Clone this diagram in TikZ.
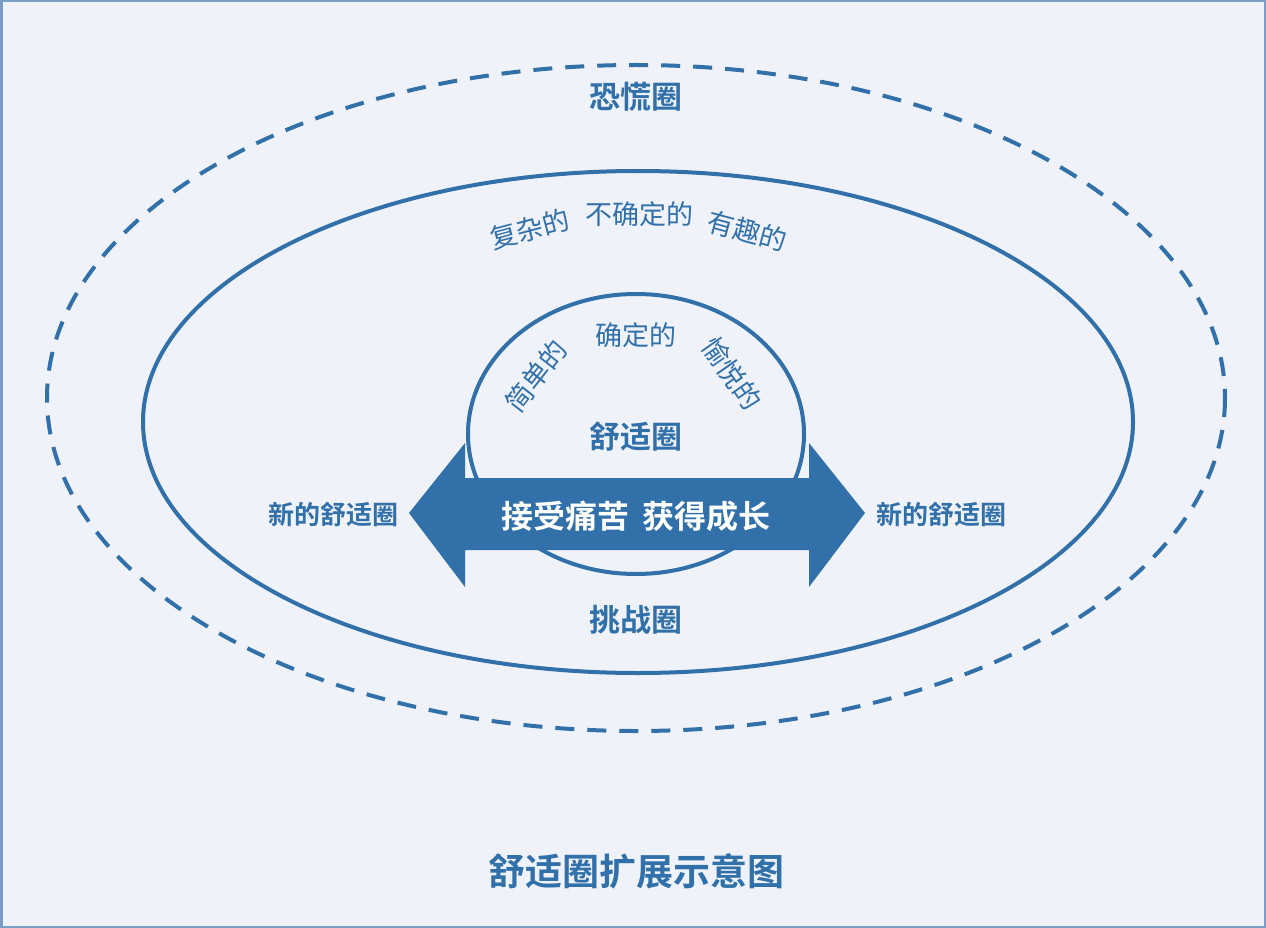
\documentclass[tikz,border=0pt]{standalone}
\usepackage{fontspec}
\newfontfamily\cjk{Noto Sans CJK SC}
\newfontfamily\cjkb{Noto Sans CJK SC Bold}
\usetikzlibrary{calc}
\definecolor{mainblue}{HTML}{3170A9}
\definecolor{bgc}{HTML}{EFF3F9}
\definecolor{framec}{HTML}{7A9EC6}
\tikzset{
  ring/.style={draw=mainblue, line width=4pt},
  dashring/.style={draw=mainblue, line width=4pt, dash pattern=on 19pt off 13pt},
  adj/.style={text=mainblue, font=\cjk\fontsize{27}{29}\selectfont, inner sep=0pt},
  lbl/.style={text=mainblue, font=\cjkb\fontsize{31}{33}\selectfont, inner sep=0pt},
  side/.style={text=mainblue, font=\cjkb\fontsize{26}{28}\selectfont, inner sep=0pt},
}
\begin{document}
\begin{tikzpicture}[x=1pt,y=-1pt]
\useasboundingbox (0,0) rectangle (1266,928);
\fill[bgc] (0,0) rectangle (1266,928);
\draw[framec, line width=2.5pt] (1.25,1.25) rectangle (1264.75,926.75);

% rings
\draw[dashring] (636,398) ellipse [x radius=589, y radius=333];
\draw[ring] (638,422) ellipse [x radius=495, y radius=251];
\draw[ring] (636,434) ellipse [x radius=168, y radius=140];

% arrow
\fill[mainblue] (409,513) -- (465,443) -- (465,478) -- (809,478) -- (809,443)
  -- (865,513) -- (809,587) -- (809,550) -- (465,550) -- (465,587) -- cycle;
\node[text=white, font=\cjkb\fontsize{32}{34}\selectfont, inner sep=0pt] (arrowtxt) at (636,516) {接受痛苦\hspace{0.4em}获得成长};

% labels
\node[lbl] (panic) at (636,97) {恐慌圈};
\node[adj, rotate=15] (complex) at (530,229) {复杂的};
\node[adj] (uncertain) at (639,214) {不确定的};
\node[adj, rotate=-15] (fun) at (747,231) {有趣的};
\node[adj, rotate=52] (simple) at (536,376) {简单的};
\node[adj] (certain) at (636,335) {确定的};
\node[adj, rotate=-55] (happy) at (732,374) {愉悦的};
\node[lbl] (comfort) at (636,437) {舒适圈};
\node[lbl] (challenge) at (636,620) {挑战圈};
\node[side] (newl) at (333,515) {新的舒适圈};
\node[side] (newr) at (941,515) {新的舒适圈};
\node[text=mainblue, font=\cjkb\fontsize{37}{39}\selectfont, inner sep=0pt] (title) at (636,871) {舒适圈扩展示意图};
\end{tikzpicture}
\end{document}
